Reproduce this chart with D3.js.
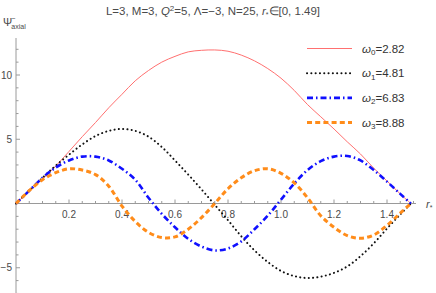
<!DOCTYPE html>
<html>
<head>
<meta charset="utf-8">
<script src="https://cdn.jsdelivr.net/npm/d3@7"></script>
<style>
  body { margin: 0; background: white; }
  svg { display: block; font-family: "Liberation Sans", Arial, sans-serif; }
</style>
</head>
<body>
<svg id="chart" width="436" height="293"></svg>
<script>
// sample positions r*
let rValues = [0, 0.05, 0.10, 0.15, 0.20, 0.25, 0.30, 0.35, 0.40, 0.45, 0.50, 0.55, 0.60, 0.65, 0.70, 0.75,
               0.80, 0.85, 0.90, 0.95, 1.00, 1.05, 1.10, 1.15, 1.20, 1.25, 1.30, 1.35, 1.40, 1.45, 1.49]

let psi0 = [0, 0.95, 1.9, 2.92, 4.05, 5.2, 6.3, 7.45, 8.5, 9.55, 10.35, 11.0, 11.45, 11.8, 11.92, 11.95,
            11.85, 11.55, 11.1, 10.5, 9.75, 8.8, 7.7, 6.75, 5.8, 4.8, 3.85, 2.75, 1.75, 0.75, 0]
let psi1 = [0, 1.0, 2.0, 2.95, 3.8, 4.6, 5.25, 5.65, 5.8, 5.65, 5.2, 4.4, 3.35, 2.25, 1.1, -0.1,
            -1.3, -2.55, -3.65, -4.55, -5.25, -5.65, -5.8, -5.7, -5.4, -4.9, -4.1, -3.1, -1.95, -0.85, 0]
let psi2 = [0, 1.0, 2.0, 2.8, 3.35, 3.65, 3.65, 3.35, 2.7, 1.85, 0.45, -0.8, -1.85, -2.75, -3.35, -3.65,
            -3.5, -2.95, -2.0, -0.95, 0.3, 1.55, 2.6, 3.3, 3.65, 3.7, 3.35, 2.6, 1.7, 0.75, 0]
let psi3 = [0, 1.0, 1.85, 2.4, 2.7, 2.6, 2.25, 1.35, -0.2, -1.4, -2.25, -2.65, -2.6, -2.0, -1.1, 0.0,
            1.15, 2.0, 2.55, 2.7, 2.35, 1.6, 0.45, -0.95, -1.85, -2.5, -2.7, -2.45, -1.7, -0.75, 0]

let legendNames = ["2.82", "4.81", "6.83", "8.88"]
let xTicks = [0.2, 0.4, 0.6, 0.8, 1.0, 1.2, 1.4]
let yTicks = [-5, 5, 10]

let series = [
    { values: psi0, color: "#ff7070", width: 1, dash: null },
    { values: psi1, color: "#111111", width: 2, dash: "0.1,4.2", cap: "round" },
    { values: psi2, color: "#1010ff", width: 2.6, dash: "6,3,1.5,3" },
    { values: psi3, color: "#ff8c1a", width: 3, dash: "5,3.2" }
]

let svg = d3.select("#chart")

let x = d3.scaleLinear().domain([0, 1]).range([16, 281])
let y = d3.scaleLinear().domain([0, 10]).range([203.5, 75])

let axisColor = "#9a9a9a"
let textColor = "#4a4a4a"

// axes lines
svg.append("line").attr("x1", x(0)).attr("x2", 416).attr("y1", y(0)).attr("y2", y(0))
   .attr("stroke", axisColor).attr("stroke-width", 1)
svg.append("line").attr("x1", x(0)).attr("x2", x(0)).attr("y1", 38).attr("y2", 293)
   .attr("stroke", axisColor).attr("stroke-width", 1)

// x ticks (minor every 0.05)
let xMinor = d3.range(1, 31).map(i => i * 0.05).filter(v => x(v) < 416)
svg.append("g").selectAll("line")
   .data(xMinor)
   .enter()
   .append("line")
     .attr("x1", d => x(d)).attr("x2", d => x(d))
     .attr("y1", y(0))
     .attr("y2", d => Math.abs(d / 0.2 - Math.round(d / 0.2)) < 1e-6 ? y(0) - 4 : y(0) - 2.5)
     .attr("stroke", axisColor)

svg.append("g").selectAll("text")
   .data(xTicks)
   .enter()
   .append("text")
     .attr("x", d => x(d))
     .attr("y", y(0) + 14)
     .attr("text-anchor", "middle")
     .attr("font-size", 10)
     .attr("fill", textColor)
     .text(d => d.toFixed(1))

// y ticks (minor every 1)
let yMinor = d3.range(-7, 13).filter(v => v !== 0 && y(v) > 38)
svg.append("g").selectAll("line")
   .data(yMinor)
   .enter()
   .append("line")
     .attr("x1", x(0))
     .attr("x2", d => d % 5 === 0 ? x(0) + 4 : x(0) + 2.5)
     .attr("y1", d => y(d)).attr("y2", d => y(d))
     .attr("stroke", axisColor)

svg.append("g").selectAll("text")
   .data(yTicks)
   .enter()
   .append("text")
     .attr("x", 12)
     .attr("y", d => y(d) + 3.5)
     .attr("text-anchor", "end")
     .attr("font-size", 10)
     .attr("fill", textColor)
     .text(d => d < 0 ? "\u2212" + Math.abs(d) : d)

// curves
let line = d3.line()
    .x((d, i) => x(rValues[i]))
    .y(d => y(d))
    .curve(d3.curveCatmullRom)

series.forEach(s => {
    svg.append("path")
       .attr("d", line(s.values))
       .attr("fill", "none")
       .attr("stroke", s.color)
       .attr("stroke-width", s.width)
       .attr("stroke-dasharray", s.dash)
       .attr("stroke-linecap", s.cap || "butt")
})

// legend
let legend = svg.append("g")
series.forEach((s, i) => {
    let ly = 48.5 + i * 24.7
    legend.append("line")
       .attr("x1", 307).attr("x2", 352).attr("y1", ly).attr("y2", ly)
       .attr("stroke", s.color)
       .attr("stroke-width", s.width)
       .attr("stroke-dasharray", s.dash)
       .attr("stroke-linecap", s.cap || "butt")
    let t = legend.append("text")
       .attr("x", 362).attr("y", ly + 4)
       .attr("font-size", 11.5)
       .attr("fill", "#333")
    t.append("tspan").attr("font-style", "italic").text("\u03c9")
    t.append("tspan").attr("font-size", 8).attr("dy", 2.5).text(i)
    t.append("tspan").attr("dy", -2.5).text("=" + legendNames[i])
})

// title
let title = svg.append("text")
   .attr("x", 213).attr("y", 15)
   .attr("text-anchor", "middle")
   .attr("font-size", 11.5)
   .attr("fill", textColor)
title.append("tspan").text("L=3, M=3, ")
title.append("tspan").attr("font-style", "italic").text("Q")
title.append("tspan").attr("font-size", 8).attr("dy", -4).text("2")
title.append("tspan").attr("dy", 4).text("=5, \u039b=\u22123, N=25, ")
title.append("tspan").attr("font-style", "italic").text("r")
title.append("tspan").attr("font-size", 7).attr("dy", 2).text("*")
title.append("tspan").attr("dy", -2).text("\u2208[0, 1.49]")

// y-axis label
let yl = svg.append("text").attr("x", 3).attr("y", 26).attr("font-size", 11).attr("fill", textColor)
yl.append("tspan").text("\u03a8")
yl.append("tspan").attr("font-size", 7).attr("dx", -1).attr("dy", -5).text("\u2212")
yl.append("tspan").attr("font-size", 7).attr("dx", -4).attr("dy", 8).text("axial")

// x-axis label
let xl = svg.append("text").attr("x", 426).attr("y", 208).attr("font-size", 11).attr("fill", textColor)
xl.append("tspan").attr("font-style", "italic").text("r")
xl.append("tspan").attr("font-size", 7).attr("dy", 2).text("*")
</script>
</body>
</html>
